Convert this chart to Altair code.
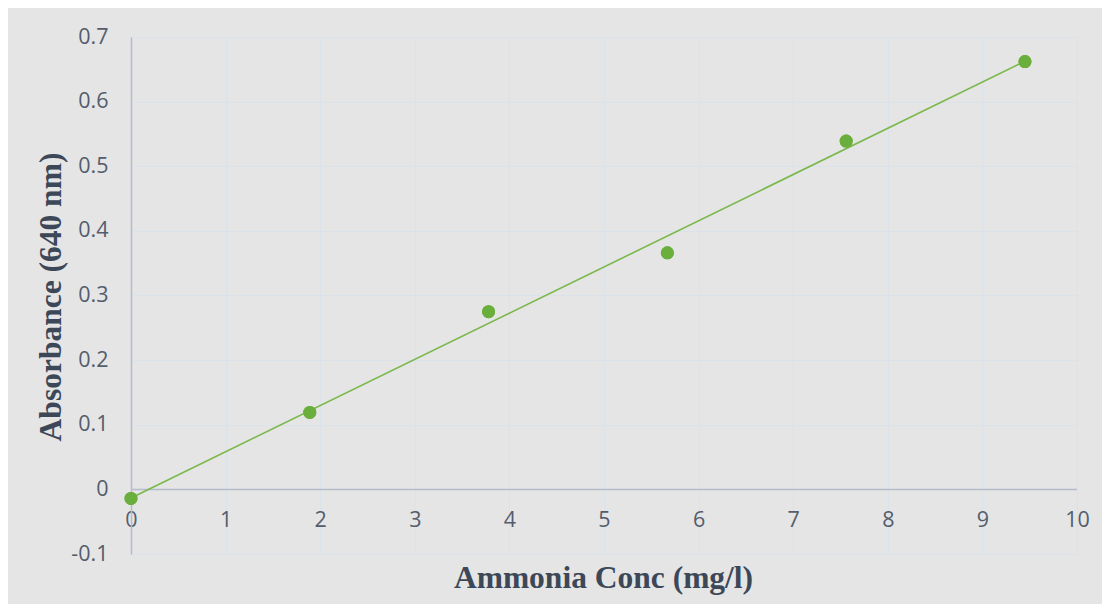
import altair as alt
import pandas as pd

# Data
conc = [0.0, 1.89, 3.78, 5.67, 7.56, 9.45]
absorbance = [-0.014, 0.119, 0.275, 0.366, 0.539, 0.662]
x_ticks = [0, 1, 2, 3, 4, 5, 6, 7, 8, 9, 10]
y_ticks = [-0.1, 0.0, 0.1, 0.2, 0.3, 0.4, 0.5, 0.6, 0.7]
x_title = "Ammonia Conc (mg/l)"
y_title = "Absorbance (640 nm)"

df = pd.DataFrame({"conc": conc, "absorbance": absorbance})

W, H = 946, 517
LABEL_FONT = "Open Sans"
LABEL_COLOR = "#535d6d"
TITLE_COLOR = "#3c4858"
GRID_COLOR = "#dce2ea"
AXIS_COLOR = "#b3bccb"
DOT_COLOR = "#6aae3c"
LINE_COLOR = "#7ab84c"

x_scale = alt.Scale(domain=[0, 10], nice=False, zero=False)
y_scale = alt.Scale(domain=[-0.1, 0.7], nice=False, zero=False)

x_axis = alt.Axis(
    values=x_ticks, grid=True, gridColor=GRID_COLOR, gridWidth=1,
    domain=False, ticks=False, tickSize=0,
    labelPadding=-34, labelBaseline="middle", labelFlush=False, labelOverlap=False,
    labelExpr="format(datum.value, 'd')",
    labelFont=LABEL_FONT, labelFontSize=21.5, labelColor=LABEL_COLOR,
    title=x_title, titleFont="Liberation Serif", titleFontSize=31.5,
    titleFontWeight="bold", titleColor=TITLE_COLOR,
    titleX=W / 2 - 1, titleY=33, titleBaseline="alphabetic", titleAlign="center",
)
y_axis = alt.Axis(
    values=y_ticks, grid=True, gridColor=GRID_COLOR, gridWidth=1,
    domain=True, domainColor=AXIS_COLOR, domainWidth=1.5,
    ticks=False, tickSize=0, labelPadding=23, labelFlush=False, labelOverlap=False,
    labelExpr="replace(format(datum.value, '.1~f'), '\u2212', '-')",
    labelFont=LABEL_FONT, labelFontSize=21.5, labelColor=LABEL_COLOR,
    title=y_title, titleFont="Liberation Serif", titleFontSize=31.5,
    titleFontWeight="bold", titleColor=TITLE_COLOR, titleAngle=270,
    titleX=-71, titleY=H / 2 + 1, titleBaseline="alphabetic", titleAlign="center",
)

base = alt.Chart(df)

points = base.mark_circle(size=170, color=DOT_COLOR, opacity=1).encode(
    x=alt.X("conc:Q", scale=x_scale, axis=x_axis),
    y=alt.Y("absorbance:Q", scale=y_scale, axis=y_axis),
)

trend = base.transform_regression("conc", "absorbance", method="linear").mark_line(
    color=LINE_COLOR, strokeWidth=1.6
).encode(x="conc:Q", y="absorbance:Q")

zero_line = alt.Chart(pd.DataFrame({"v": [0]})).mark_rule(
    color=AXIS_COLOR, strokeWidth=1.5
).encode(y=alt.datum(0), x=alt.datum(0), x2=alt.datum(10))

chart = alt.layer(points, zero_line, trend, points).properties(
    width=W, height=H,
    autosize=alt.AutoSizeParams(type="none"),
    padding={"left": 123, "top": 29, "right": 25, "bottom": 50},
    background="#e5e5e5",
).configure_view(stroke=None)

chart.save("out.html", embed_options={"renderer": "svg", "actions": False})
